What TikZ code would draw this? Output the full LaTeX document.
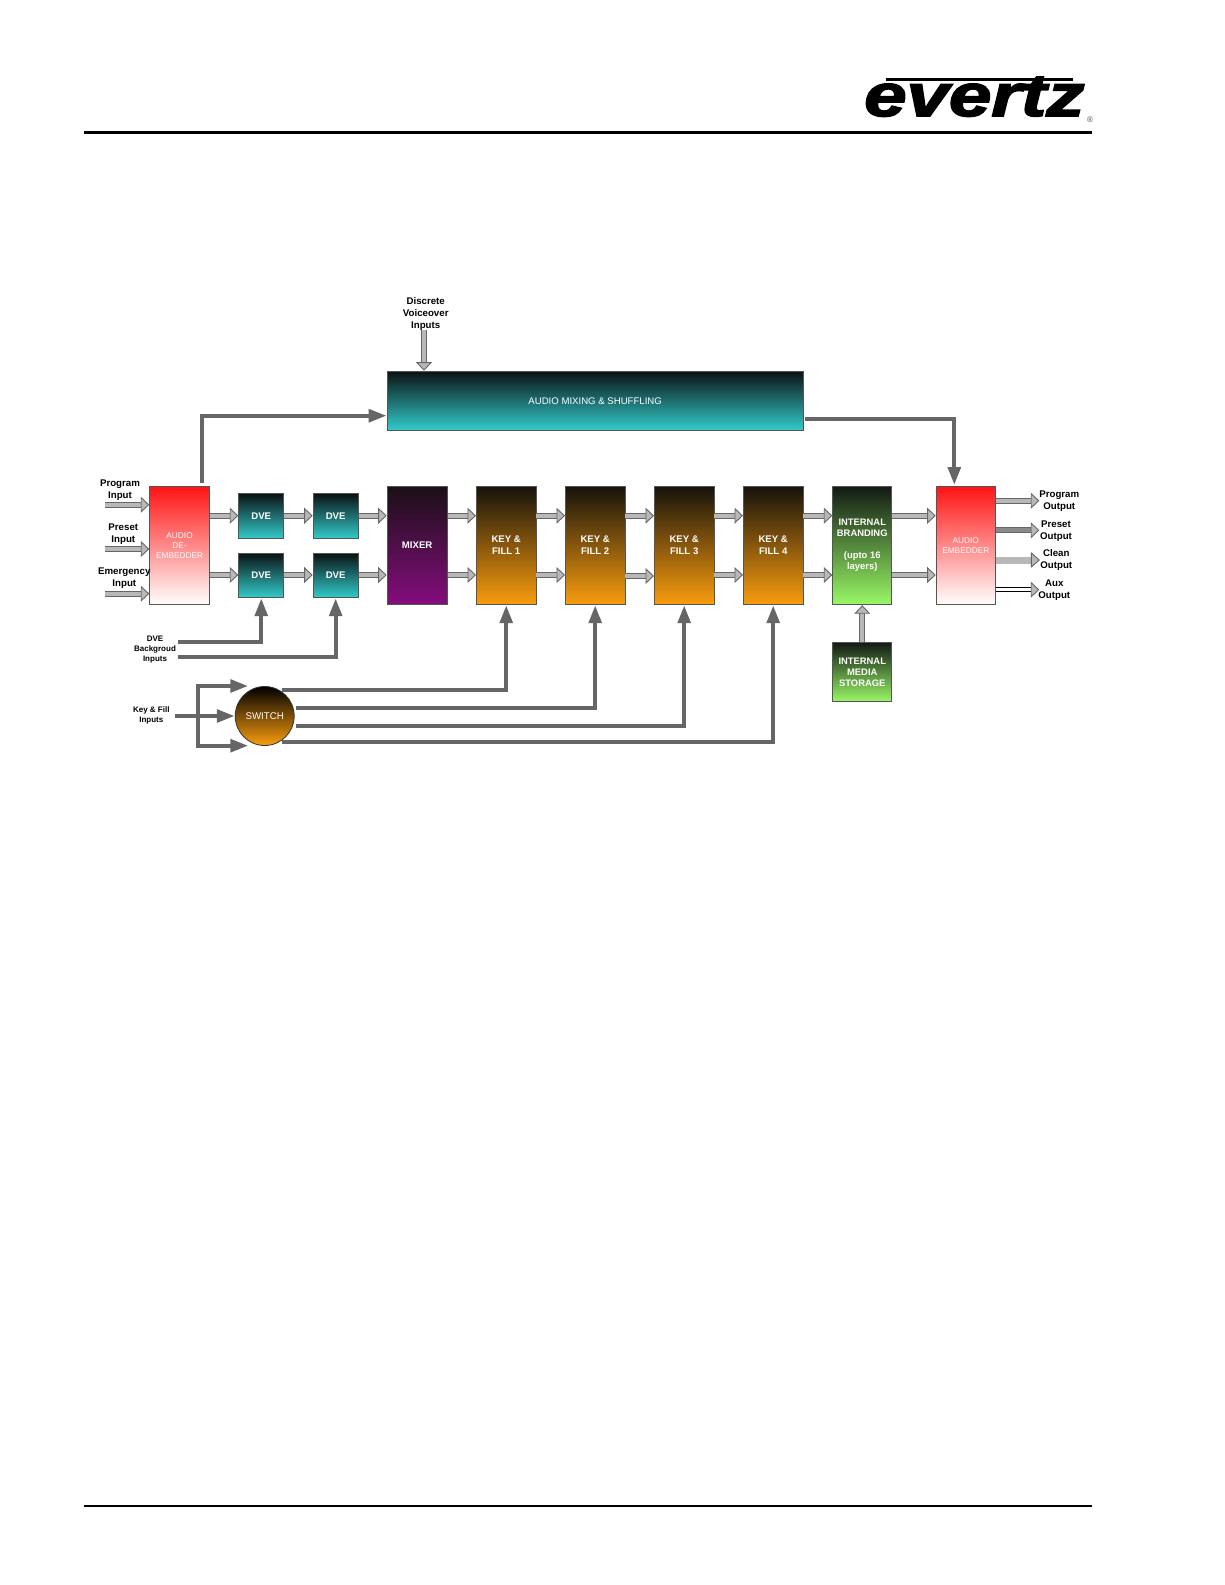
\documentclass[tikz,border=0pt]{standalone}
\usepackage{fontspec}
\setmainfont{Liberation Sans}
\newfontfamily\logofont[BoldItalicFeatures={FakeBold=2.5}]{Liberation Sans}
\usetikzlibrary{arrows.meta,calc}
\definecolor{cdark}{HTML}{666666}
\definecolor{cfill}{HTML}{B8B8B8}
\definecolor{cedge}{HTML}{555555}
\definecolor{tealtop}{HTML}{0A1214}
\definecolor{tealbot}{HTML}{33CCCC}
\definecolor{mixtop}{HTML}{1A1016}
\definecolor{mixbot}{HTML}{850D7E}
\definecolor{keytop}{HTML}{16120C}
\definecolor{keybot}{HTML}{FA9D0E}
\definecolor{grntop}{HTML}{121A14}
\definecolor{grnbot}{HTML}{99F866}
\definecolor{redtop}{HTML}{FF1414}
\tikzset{
  lab/.style={align=center,inner sep=0pt,text=black,font=\fontsize{9.7}{12}\selectfont\bfseries},
  labs/.style={align=center,inner sep=0pt,text=black,font=\fontsize{8}{10}\selectfont\bfseries},
  box/.style={rectangle,draw=cedge,line width=0.9pt,anchor=north west,inner sep=0pt,align=center,text=white,
    font=\fontsize{9.6}{12}\selectfont\bfseries},
  tealg/.style={top color=tealtop,bottom color=tealbot},
  redg/.style={top color=redtop,bottom color=white,font=\fontsize{8.3}{10}\selectfont},
  mixg/.style={top color=mixtop,bottom color=mixbot},
  keyg/.style={top color=keytop,bottom color=keybot},
  greeng/.style={top color=grntop,bottom color=grnbot},
  fat/.style={draw=cdark,double=cfill,line width=0.9pt,double distance=4.2pt,
    -{Triangle[length=8.5pt,width=16pt,line width=0.9pt,fill=cfill,color=cdark]}},
  thickarrow/.style={draw=cdark,line width=4.2pt,-{Triangle[length=18pt,width=12.5pt,color=cdark]}},
}
\begin{document}
\begin{tikzpicture}[x=1pt,y=-1pt]
\useasboundingbox (0,0) rectangle (1225,1585);
% page rules
\coordinate (hl) at (84,132.3); \coordinate (hr) at (1092,132.3);
\coordinate (fl) at (84,1505.7); \coordinate (fr) at (1092,1505.7);
\draw[black,line width=2.8pt] (hl) -- (hr);
\draw[black,line width=2pt] (fl) -- (fr);
% logo
\fill[black] (886,77.6) rectangle (1073,80.6);
\node[anchor=base west,inner sep=0pt,xscale=1.27,text=black,font=\fontsize{60}{60}\logofont\bfseries\itshape] (logo) at (864,116) {evertz};
\node[inner sep=0pt,text=black!70,font=\fontsize{8}{8}\selectfont] (reg) at (1090,120) {®};
% rows
\coordinate (up) at (0,515.7);
\coordinate (lo) at (0,575);
% boxes
\node[box,tealg,minimum width=416pt,minimum height=59.3pt,font=\fontsize{9.6}{12}\selectfont] (mix) at (386.7,370.7) {AUDIO MIXING \& SHUFFLING};
\node[box,redg,minimum width=59.7pt,minimum height=118.3pt] (dem) at (149.3,486) {AUDIO\\DE-\\EMBEDDER};
\node[box,tealg,minimum width=45pt,minimum height=45.3pt] (d1) at (238.3,493) {DVE};
\node[box,tealg,minimum width=45pt,minimum height=45.3pt] (d2) at (312.7,493) {DVE};
\node[box,tealg,minimum width=45pt,minimum height=44.6pt] (d3) at (238.3,552.7) {DVE};
\node[box,tealg,minimum width=45pt,minimum height=44.6pt] (d4) at (312.7,552.7) {DVE};
\node[box,mixg,minimum width=60pt,minimum height=118.3pt] (mxr) at (386.7,486) {MIXER};
\node[box,keyg,minimum width=59.5pt,minimum height=118.3pt] (k1) at (476,486) {KEY \&\\FILL 1};
\node[box,keyg,minimum width=59.5pt,minimum height=118.3pt] (k2) at (565,486) {KEY \&\\FILL 2};
\node[box,keyg,minimum width=59.5pt,minimum height=118.3pt] (k3) at (654,486) {KEY \&\\FILL 3};
\node[box,keyg,minimum width=59.5pt,minimum height=118.3pt] (k4) at (743,486) {KEY \&\\FILL 4};
\node[box,greeng,minimum width=59pt,minimum height=118.3pt,font=\fontsize{9.4}{11}\selectfont\bfseries] (ib) at (832.3,486) {INTERNAL\\BRANDING\\[11pt](upto 16\\layers)};
\node[box,greeng,minimum width=59pt,minimum height=59.3pt,font=\fontsize{9.4}{11}\selectfont\bfseries] (ms) at (832.3,642) {INTERNAL\\MEDIA\\STORAGE};
\node[box,redg,minimum width=59.3pt,minimum height=118.3pt] (emb) at (935.7,486) {AUDIO\\EMBEDDER};
\node[circle,draw=black!80,line width=0.8pt,minimum size=59pt,inner sep=0pt,top color=black,bottom color=keybot,text=white,font=\fontsize{9.7}{12}\selectfont] (sw) at (264.7,716) {SWITCH};
% labels
\node[lab] (lprog) at (120,490) {Program\\Input};
\node[lab] (lpres) at (123.3,534.5) {Preset\\Input};
\node[lab] (lemer) at (124.3,577.7) {Emergency\\Input};
\node[lab] (ldisc) at (425.7,313.7) {Discrete\\Voiceover\\Inputs};
\node[labs] (lbg) at (155,650) {DVE\\Backgroud\\Inputs};
\node[labs] (lkf) at (151.3,715.7) {Key \& Fill\\Inputs};
\node[lab] (oprog) at (1059.3,500.8) {Program\\Output};
\node[lab] (opres) at (1056,530.8) {Preset\\Output};
\node[lab] (oclean) at (1056.3,560.3) {Clean\\Output};
\node[lab] (oaux) at (1054.3,590.2) {Aux\\Output};
% free ends
\coordinate (i1) at (105,504.7);
\coordinate (i2) at (105,549);
\coordinate (i3) at (105,593.7);
\coordinate (e1) at (1039.3,500.7);
\coordinate (e2) at (1039.3,530.3);
\coordinate (e3) at (1039.3,560);
\coordinate (e4) at (1039.3,589.7);
\coordinate (dv) at (424,330);
% input and output fat arrows
\draw[fat] (i1) -- (dem.west |- i1);
\draw[fat] (i2) -- (dem.west |- i2);
\draw[fat] (i3) -- (dem.west |- i3);
\draw[fat] (dv) -- (mix.north -| dv);
\draw[fat] (emb.east |- e1) -- (e1);
\draw[fat,double=cfill!75!black] (emb.east |- e2) -- (e2);
\draw[draw=cfill,line width=7pt] (emb.east |- e3) -- ($(e3)+(-8,0)$);
\draw[draw=cdark,fill=cfill,line width=0.9pt] ($(e3)+(-8,-7)$) -- (e3) -- ($(e3)+(-8,7)$) -- cycle;
\draw[draw=black,double=white,line width=0.9pt,double distance=3.4pt,-{Triangle[length=8.5pt,width=16pt,line width=0.9pt,fill=cfill,color=cdark]}] (emb.east |- e4) -- (e4);
% row fat arrows
\foreach \r in {up,lo}{
  \draw[fat] (dem.east |- \r) -- (d1.west |- \r);
  \draw[fat] (d1.east |- \r) -- (d2.west |- \r);
  \draw[fat] (d2.east |- \r) -- (mxr.west |- \r);
  \draw[fat] (mxr.east |- \r) -- (k1.west |- \r);
  \draw[fat] (k1.east |- \r) -- (k2.west |- \r);
  \draw[fat] (k3.east |- \r) -- (k4.west |- \r);
  \draw[fat] (k4.east |- \r) -- (ib.west |- \r);
  \draw[fat] (ib.east |- \r) -- (emb.west |- \r);
}
\draw[fat] (k2.east |- up) -- (k3.west |- up);
\draw[fat] ($(k2.east |- lo)+(0,1)$) -- ($(k3.west |- lo)+(0,1)$);
\draw[fat] (ms.north) -- (ib.south);
% audio bypass
\draw[thickarrow] (201.7,483) |- (mix.west |- 0,415.7);
\draw[thickarrow] (805,419.3) -| (954.3,485);
% DVE background
\draw[thickarrow] (178.3,641.7) -| (d3.south);
\draw[thickarrow] (178.3,657) -| (d4.south);
% switch in
\draw[thickarrow] (175,716) -- (sw.west);
\coordinate (ta) at (248.3,686);
\coordinate (tb) at (248.3,745.7);
\draw[draw=cdark,line width=4.2pt,{Triangle[length=18pt,width=12.5pt,color=cdark]}-{Triangle[length=18pt,width=12.5pt,color=cdark]}] (ta) -- (197.7,686) -- (197.7,745.7) -- (tb);
% switch out
\draw[thickarrow] (281.7,690) -| (k1.south);
\draw[thickarrow] (296,708.3) -| (k2.south);
\draw[thickarrow] (296,726) -| (k3.south);
\draw[thickarrow] (281.7,742) -| (k4.south);
\end{tikzpicture}
\end{document}
